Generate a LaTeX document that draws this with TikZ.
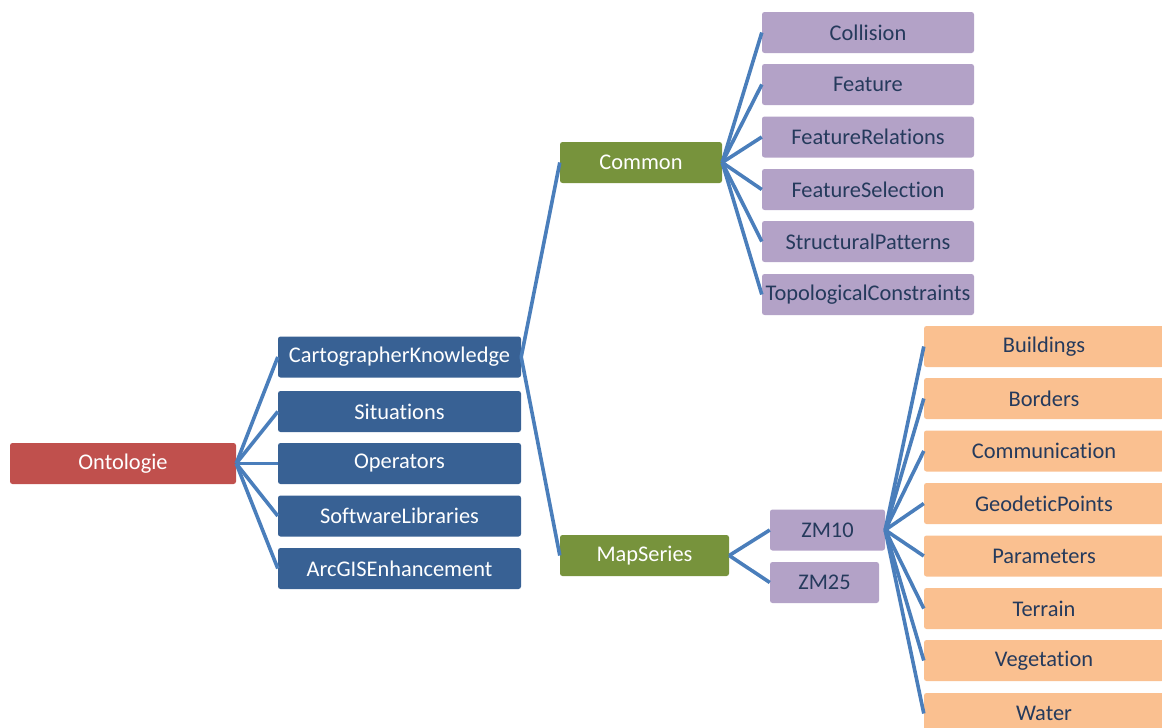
\documentclass[tikz,border=0pt]{standalone}
\usepackage{fontspec}
\setmainfont{Carlito}[Ligatures=CommonOff]
\usetikzlibrary{positioning}

\definecolor{rootRed}{HTML}{C0504D}
\definecolor{mainBlue}{HTML}{386194}
\definecolor{groupGreen}{HTML}{77933C}
\definecolor{leafPurple}{HTML}{B3A2C7}
\definecolor{leafOrange}{HTML}{FAC090}
\definecolor{darkText}{HTML}{253A5C}
\definecolor{lineBlue}{HTML}{4A7EBB}

\tikzset{
	box/.style={rectangle, rounded corners=2.5pt, minimum height=41pt, inner sep=0pt,
		font=\fontsize{22.4}{25}\selectfont},
	rootbox/.style={box, fill=rootRed, text=white, minimum width=226pt},
	mainbox/.style={box, fill=mainBlue, text=white, minimum width=243pt},
	groupbox/.style={box, fill=groupGreen, text=white},
	purplebox/.style={box, fill=leafPurple, text=darkText},
	orangebox/.style={box, fill=leafOrange, text=darkText, minimum width=240pt},
	link/.style={draw=lineBlue, line width=3.6pt}
}

\begin{document}
\begin{tikzpicture}[x=1pt, y=-1pt]
		% Define the size of the picture
		\useasboundingbox (0, 0) rectangle (1162, 728);
		
		% Root of the ontology
		\node[rootbox] (onto) at (123, 463.5) {Ontologie};
		
		\begin{scope}
			% First level, the blue boxes
			\node[mainbox] (carto) at (399.5, 357) {CartographerKnowledge};
			\node[mainbox] (situ) at (399.5, 411.5) {Situations};
			\node[mainbox] (oper) at (399.5, 463.5) {Operators};
			\node[mainbox] (softw) at (399.5, 516) {SoftwareLibraries};
			\node[mainbox] (arcgis) at (399.5, 568.5) {ArcGISEnhancement};
		\end{scope}
		
		\begin{scope}
			% Second level, the green boxes
			\node[groupbox, minimum width=162pt] (common) at (641, 162.5) {Common};
			\node[groupbox, minimum width=169pt] (mapser) at (644.5, 555.5) {MapSeries};
		\end{scope}
		
		\begin{scope}
			% Children of Common
			\node[purplebox, minimum width=212pt] (coll) at (868, 32.5) {Collision};
			\node[purplebox, minimum width=212pt] (feat) at (868, 84.5) {Feature};
			\node[purplebox, minimum width=212pt] (featrel) at (868, 137) {FeatureRelations};
			\node[purplebox, minimum width=212pt] (featsel) at (868, 189.5) {FeatureSelection};
			\node[purplebox, minimum width=212pt] (struct) at (868, 241.5) {StructuralPatterns};
			\node[purplebox, minimum width=212pt] (topo) at (868, 294.5) {TopologicalConstraints};
		\end{scope}
		
		\begin{scope}
			% Children of MapSeries
			\node[purplebox, minimum width=115pt] (zmten) at (827.5, 530) {ZM10};
			\node[purplebox, minimum width=109pt] (zmtwfive) at (824.5, 582.5) {ZM25};
		\end{scope}
		
		\begin{scope}
			% Children of ZM10, the orange boxes
			\node[orangebox] (build) at (1044, 346.5) {Buildings};
			\node[orangebox] (border) at (1044, 398.5) {Borders};
			\node[orangebox] (commu) at (1044, 451) {Communication};
			\node[orangebox] (geod) at (1044, 503.5) {GeodeticPoints};
			\node[orangebox] (param) at (1044, 556) {Parameters};
			\node[orangebox] (terr) at (1044, 608.5) {Terrain};
			\node[orangebox] (veget) at (1044, 660.5) {Vegetation};
			\node[orangebox] (water) at (1044, 713.5) {Water};
		\end{scope}
		
		% Connectors between the levels
		\foreach \child in {carto, situ, oper, softw, arcgis}
			\draw[link] (onto.east) -- (\child.west);
		\foreach \child in {common, mapser}
			\draw[link] (carto.east) -- (\child.west);
		\foreach \child in {coll, feat, featrel, featsel, struct, topo}
			\draw[link] (common.east) -- (\child.west);
		\foreach \child in {zmten, zmtwfive}
			\draw[link] (mapser.east) -- (\child.west);
		\foreach \child in {build, border, commu, geod, param, terr, veget, water}
			\draw[link] (zmten.east) -- (\child.west);
	\end{tikzpicture}
\end{document}
